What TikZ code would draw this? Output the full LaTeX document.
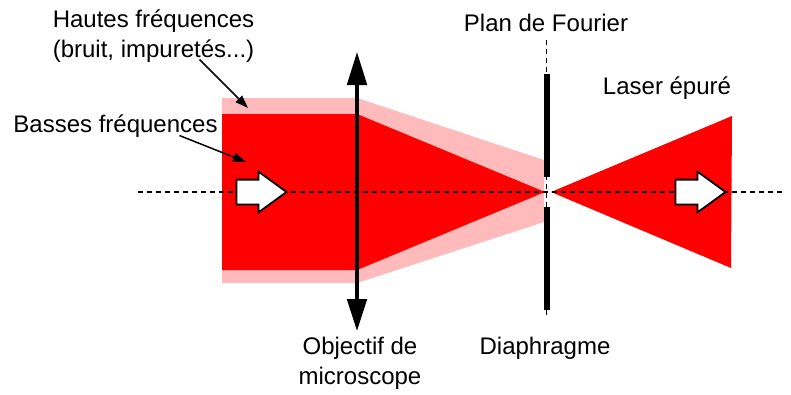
\documentclass[tikz,border=0pt]{standalone}
\usepackage{fontspec}
\setmainfont{Liberation Sans}
\usetikzlibrary{arrows.meta,shapes.arrows}
\definecolor{laserred}{RGB}{255, 0, 0}
\definecolor{laserpink}{RGB}{255, 187, 187}
\begin{document}
\begin{tikzpicture}[
      x=1pt, y=-1pt,
      lbl/.style={font=\fontsize{24}{28}\selectfont, inner sep=0pt, anchor=center},
      axe/.style={black, line width=1.3pt, dash pattern=on 5pt off 4pt},
      lentille/.style={black, line width=3.6pt, {Triangle[length=32pt,width=19.5pt]}-{Triangle[length=33pt,width=19.5pt]}},
      fleche/.style={black, line width=1.5pt, -{Triangle[length=13pt,width=9pt]}},
      sens/.style={draw=black, fill=white, line width=1.8pt, single arrow, inner xsep=0pt, inner ysep=11.5pt,
                   minimum height=50pt, single arrow head extend=8pt,
                   single arrow tip angle=72, single arrow head indent=0pt},
    ]
    \useasboundingbox (0,0) rectangle (791,394);
    %% beam
    \fill[laserpink] (222,98) -- (357,98) -- (544,160) -- (544,222) -- (357,283) -- (222,283) -- cycle;
    \fill[laserred] (222,114) -- (357,114) -- (545,192) -- (357,270) -- (222,270) -- cycle;
    \fill[laserred] (551,192) -- (732,116) -- (731,268) -- cycle;
    %% diaphragm
    \coordinate (planH) at (546.5,40);
    \coordinate (planB) at (546.5,318);
    \draw[axe, line width=1.1pt] (planH) -- (planB);
    \coordinate (diaA) at (546.5,74);
    \coordinate (diaB) at (546.5,177);
    \coordinate (diaC) at (546.5,207);
    \coordinate (diaD) at (546.5,310);
    \draw[black, line width=6pt] (diaA) -- (diaB);
    \draw[black, line width=6pt] (diaC) -- (diaD);
    %% axis
    \coordinate (axeG) at (138,192);
    \coordinate (axeD) at (785,192);
    \draw[axe] (axeG) -- (axeD);
    %% lens
    \coordinate (lensH) at (357,52);
    \coordinate (lensB) at (357,331);
    \draw[lentille] (lensB) -- (lensH);
    %% direction arrows
    \node[sens] (sens1) at (253,192) {};
    \node[sens] (sens2) at (692,192) {};
    %% labels
    \node[lbl] (hautes) at (153.5,21) {Hautes fréquences};
    \node[lbl] (bruit) at (153.5,51) {(bruit, impuretés...)};
    \node[lbl] (basses) at (115.5,126) {Basses fréquences};
    \node[lbl] (plan) at (546,23) {Plan de Fourier};
    \node[lbl] (laser) at (667,88) {Laser épuré};
    \node[lbl] (objectif) at (360,348) {Objectif de};
    \node[lbl] (micro) at (360,378) {microscope};
    \node[lbl] (diaph) at (545,348) {Diaphragme};
    %% pointers
    \coordinate (hautesFin) at (248,108);
    \coordinate (bassesFin) at (246,162);
    \draw[fleche] (bruit.south) ++(46,-3) coordinate (hautesDeb) (hautesDeb) -- (hautesFin);
    \draw[fleche] (basses.south) ++(64,-2) coordinate (bassesDeb) (bassesDeb) -- (bassesFin);
\end{tikzpicture}
\end{document}
